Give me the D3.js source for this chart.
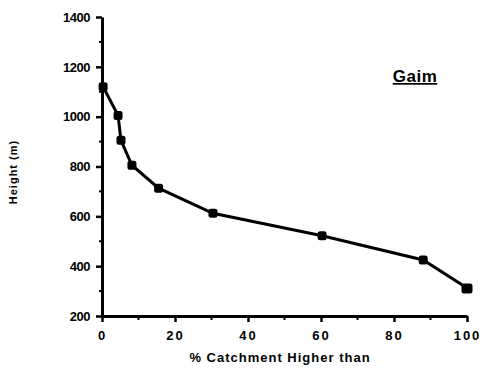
<!DOCTYPE html>
<html>
<head>
<meta charset="utf-8">
<script src="https://cdn.jsdelivr.net/npm/d3@7"></script>
<style>
  body { margin: 0; background: #fff; }
  text { font-family: "Liberation Sans", Arial, sans-serif; font-weight: bold; fill: #000; }
</style>
</head>
<body>
<div id="chart"></div>
<script>
// data
var catchment = [0.3, 4.4, 5.2, 8.2, 15.5, 30.4, 60.3, 88, 100];
var height_m = [1120, 1005, 905, 805, 713, 612, 522, 425, 312];
var xTicks = [0, 20, 40, 60, 80, 100];
var yTicks = [200, 400, 600, 800, 1000, 1200, 1400];

var svgWidth = 486;
var svgHeight = 381;

var svg = d3.select("#chart")
  .append("svg")
  .attr("width", svgWidth)
  .attr("height", svgHeight);

var x = d3.scaleLinear().domain([0, 100]).range([102, 467]);
var y = d3.scaleLinear().domain([200, 1400]).range([316, 17]);

// minor ticks
svg.append("g")
  .selectAll("line")
  .data(d3.range(10, 100, 20))
  .enter().append("line")
  .attr("x1", d => x(d)).attr("x2", d => x(d))
  .attr("y1", y(200)).attr("y2", y(200) + 4)
  .attr("stroke", "#000").attr("stroke-width", 2);

svg.append("g")
  .selectAll("line")
  .data(d3.range(300, 1400, 200))
  .enter().append("line")
  .attr("x1", x(0) - 3).attr("x2", x(0))
  .attr("y1", d => y(d)).attr("y2", d => y(d))
  .attr("stroke", "#000").attr("stroke-width", 2);

// axes
var bottomAxis = d3.axisBottom(x).tickValues(xTicks).tickFormat(d3.format("d"))
  .tickSize(6).tickPadding(9).tickSizeOuter(0);
var leftAxis = d3.axisLeft(y).tickValues(yTicks).tickFormat(d3.format("d"))
  .tickSize(6).tickPadding(6).tickSizeOuter(0);

var gx = svg.append("g")
  .attr("transform", `translate(0, ${y(200)})`)
  .call(bottomAxis);
var gy = svg.append("g")
  .attr("transform", `translate(${x(0)}, 0)`)
  .call(leftAxis);

[gx, gy].forEach(g => {
  g.select(".domain").attr("stroke", "#000").attr("stroke-width", 3);
  g.selectAll(".tick line").attr("stroke", "#000").attr("stroke-width", 2.5);
  g.selectAll(".tick text")
    .attr("font-family", "Liberation Sans, Arial, sans-serif")
    .attr("font-weight", "bold")
    .attr("font-size", "13px")
    .attr("fill", "#000");
});
gx.selectAll(".tick text").attr("letter-spacing", "2px");
gy.selectAll(".tick text").attr("letter-spacing", "-0.5px");

// line + markers
var line = d3.line()
  .x((d, i) => x(catchment[i]))
  .y(d => y(d));

svg.append("path")
  .datum(height_m)
  .attr("d", line)
  .attr("fill", "none")
  .attr("stroke", "#000")
  .attr("stroke-width", 3);

svg.append("g")
  .selectAll("rect")
  .data(height_m)
  .enter().append("rect")
  .attr("x", (d, i) => x(catchment[i]) - (i == 8 ? 5.5 : 4.5))
  .attr("y", d => y(d) - 4.5)
  .attr("width", (d, i) => i == 8 ? 11 : 9)
  .attr("height", (d, i) => i == 8 ? 10 : 9)
  .attr("rx", 2.5)
  .attr("fill", "#000");

// labels
svg.append("text")
  .attr("transform", "translate(17, 172) rotate(-90)")
  .attr("text-anchor", "middle")
  .attr("font-size", "11px")
  .attr("letter-spacing", "1px")
  .text("Height  (m)");

svg.append("text")
  .attr("x", 280)
  .attr("y", 362)
  .attr("text-anchor", "middle")
  .attr("font-size", "13px")
  .attr("letter-spacing", "1px")
  .text("% Catchment Higher than");

svg.append("text")
  .attr("x", 415)
  .attr("y", 82)
  .attr("text-anchor", "middle")
  .attr("font-size", "17px")
  .attr("letter-spacing", "0.5px")
  .attr("text-decoration", "underline")
  .text("Gaim");
</script>
</body>
</html>
